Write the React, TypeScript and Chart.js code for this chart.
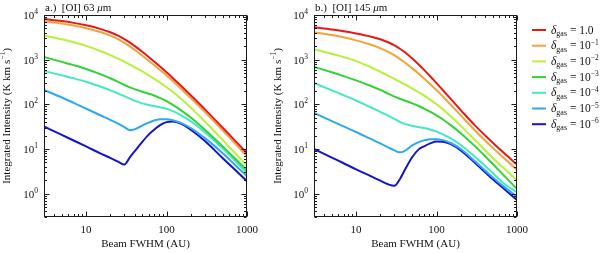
import React, { useEffect, useRef } from "react";
import { Chart, registerables } from "chart.js";
Chart.register(...registerables);

// ---------- data ----------
const beamFwhm = [3, 5, 7, 10, 15, 20, 25, 30, 35, 40, 50, 60, 70, 85, 100, 120, 150, 200, 300, 500, 700, 1000];

const deltaExponents = ["1.0", "−1", "−2", "−3", "−4", "−5", "−6"];
const lineColors = ["#e41a1a", "#f4a23a", "#b8f03c", "#34d234", "#44e8c4", "#2ea8ee", "#1414c8"];

// [OI] 63 micron
const oi63_d0 = [8100, 7310, 6660, 5880, 4900, 4120, 3450, 2870, 2410, 2030, 1500, 1150, 910, 675, 520, 385, 263, 159, 77, 29.8, 15.8, 8.05];
const oi63_d1 = [7200, 6435, 5790, 5050, 4160, 3460, 2880, 2380, 1985, 1665, 1226, 947, 756, 566, 442, 331, 226, 138, 67, 25.9, 13.7, 6.9];
const oi63_d2 = [3500, 2854, 2453, 2038, 1566, 1262, 1051, 895, 777, 682, 544, 447, 376, 298, 242, 188, 135, 84.3, 41.1, 15.8, 8.35, 4.21];
const oi63_d3 = [1150, 891, 753, 619, 475, 383, 317, 271, 240, 219, 191, 173, 158, 136, 118, 97.2, 74.4, 50.5, 26.9, 11.3, 6.3, 3.3];
const oi63_d4 = [560, 445, 382, 320, 251, 206, 175, 152, 134, 121, 105, 96.3, 91.3, 85.3, 79.3, 70.4, 57.6, 42, 23.8, 10.2, 5.6, 2.9];
const oi63_d5 = [209, 142, 108, 80, 57, 45, 37, 31, 26.3, 27.5, 33.5, 39, 43.5, 46.5, 46.5, 44, 38.5, 29.5, 17.5, 8, 4.5, 2.45];
const oi63_d6 = [32, 20.6, 15.5, 11.4, 8.0, 6.3, 5.2, 4.5, 6.5, 8.8, 14.5, 21, 27, 35, 40, 41.5, 37, 27, 15, 6.2, 3.5, 1.9];

// [OI] 145 micron
const oi145_d0 = [5300, 4738, 4327, 3860, 3308, 2865, 2451, 2080, 1756, 1485, 1063, 780, 591, 409, 298, 207, 132, 74.4, 33.7, 13.8, 7.9, 4.48];
const oi145_d1 = [4080, 3554, 3159, 2702, 2183, 1805, 1495, 1248, 1036, 876, 638, 484, 378, 274, 209, 149, 97.7, 56.5, 26, 10.6, 6.1, 3.4];
const oi145_d2 = [1700, 1351, 1141, 928, 685, 536, 439, 370, 320, 281, 225, 186, 157, 124, 100, 77.1, 54, 32.9, 15.9, 6.3, 3.57, 1.98];
const oi145_d3 = [690, 521, 429, 344, 261, 210, 174, 149, 133, 122, 105, 91.8, 80.5, 66.9, 56.4, 45.8, 34.2, 22.6, 11.6, 4.6, 2.47, 1.28];
const oi145_d4 = [300, 205, 160, 122, 87, 68, 56, 47, 40.5, 36.5, 33, 31, 29.5, 27, 24.5, 21.3, 17.3, 12.3, 6.7, 2.9, 1.65, 1.08];
const oi145_d5 = [64, 42, 32, 24, 17, 13.3, 10.9, 9.3, 8.4, 9, 12, 14.2, 15.6, 16.6, 16.6, 15.8, 13.6, 10, 5.3, 2.3, 1.4, 0.85];
const oi145_d6 = [10, 6.4, 4.8, 3.5, 2.5, 1.95, 1.62, 1.5, 2.1, 3.3, 6.6, 9.8, 11.5, 13.5, 14.8, 14.6, 12.8, 9.3, 4.9, 2.1, 1.25, 0.72];

const oi63Series = [oi63_d0, oi63_d1, oi63_d2, oi63_d3, oi63_d4, oi63_d5, oi63_d6];
const oi145Series = [oi145_d0, oi145_d1, oi145_d2, oi145_d3, oi145_d4, oi145_d5, oi145_d6];

const xTickLabels = [10, 100, 1000];
const yTickExponents = [0, 1, 2, 3, 4];
const xRange = [3, 1000];
const yRange = [0.3, 10000];

// ---------- text helpers ----------
const FONT = '"Liberation Serif", "DejaVu Serif", serif';
type Run = { t: string; size: number; italic?: boolean; dy?: number };
const fnt = (r: Run) => `${r.italic ? "italic " : ""}${r.size}px ${FONT}`;
function runsWidth(ctx: CanvasRenderingContext2D, runs: Run[]) {
  let w = 0;
  for (const r of runs) {
    ctx.font = fnt(r);
    w += ctx.measureText(r.t).width;
  }
  return w;
}
function drawRuns(ctx: CanvasRenderingContext2D, runs: Run[], x: number, y: number, align: "left" | "center" | "right") {
  const w = runsWidth(ctx, runs);
  let cx = align === "left" ? x : align === "center" ? x - w / 2 : x - w;
  ctx.textAlign = "left";
  ctx.textBaseline = "alphabetic";
  for (const r of runs) {
    ctx.font = fnt(r);
    ctx.fillText(r.t, cx, y + (r.dy || 0));
    cx += ctx.measureText(r.t).width;
  }
}

type PanelCfg = {
  title: Run[];
  yTitleX: number;
  legend: boolean;
};

function makePlugin(cfg: PanelCfg) {
  return {
    id: "frameAndText",
    afterDatasetsDraw(chart: any) {
      const ctx: CanvasRenderingContext2D = chart.ctx;
      const a = chart.chartArea;
      const xs = chart.scales.x;
      const ys = chart.scales.y;
      ctx.save();
      ctx.strokeStyle = "#1a1a1a";
      ctx.fillStyle = "#111";
      ctx.lineWidth = 1;
      const L = Math.round(a.left) + 0.5;
      const R = Math.round(a.right) - 0.5;
      const T = Math.round(a.top) + 0.5;
      const B = Math.round(a.bottom) - 0.5;
      ctx.strokeRect(L, T, R - L, B - T);

      ctx.beginPath();
      for (let d = 0; d <= 3; d++) {
        for (let m = 1; m <= 9; m++) {
          const v = m * Math.pow(10, d);
          if (v < xRange[0] || v > xRange[1]) continue;
          const px = Math.round(xs.getPixelForValue(v)) + 0.5;
          const len = m === 1 ? 5 : 2.5;
          ctx.moveTo(px, B);
          ctx.lineTo(px, B - len);
          ctx.moveTo(px, T);
          ctx.lineTo(px, T + len);
        }
      }
      for (let d = -1; d <= 4; d++) {
        for (let m = 1; m <= 9; m++) {
          const v = m * Math.pow(10, d);
          if (v < yRange[0] || v > yRange[1]) continue;
          const py = Math.round(ys.getPixelForValue(v)) + 0.5;
          const len = m === 1 ? 5 : 2.5;
          ctx.moveTo(L, py);
          ctx.lineTo(L + len, py);
          ctx.moveTo(R, py);
          ctx.lineTo(R - len, py);
        }
      }
      ctx.stroke();

      for (const v of xTickLabels) {
        const px = xs.getPixelForValue(v);
        drawRuns(ctx, [{ t: String(v), size: 11 }], px, a.bottom + 16, "center");
      }
      for (const e of yTickExponents) {
        const py = ys.getPixelForValue(Math.pow(10, e));
        drawRuns(ctx, [{ t: "10", size: 11 }, { t: String(e), size: 7.5, dy: -5 }], a.left - 6, py + 4, "right");
      }
      drawRuns(ctx, [{ t: "Beam FWHM (AU)", size: 11 }], (a.left + a.right) / 2, a.bottom + 30, "center");
      ctx.save();
      ctx.translate(cfg.yTitleX, (a.top + a.bottom) / 2);
      ctx.rotate(-Math.PI / 2);
      drawRuns(
        ctx,
        [
          { t: "Integrated Intensity (K km s", size: 11 },
          { t: "−1", size: 7.5, dy: -5 },
          { t: ")", size: 11 },
        ],
        0,
        4,
        "center"
      );
      ctx.restore();
      drawRuns(ctx, cfg.title, a.left + 1, a.top - 4, "left");

      if (cfg.legend) {
        const lx = a.right + 15;
        for (let i = 0; i < deltaExponents.length; i++) {
          const y = 30 + i * 15.7;
          ctx.strokeStyle = lineColors[i];
          ctx.lineWidth = 2;
          ctx.beginPath();
          ctx.moveTo(lx, y);
          ctx.lineTo(lx + 14, y);
          ctx.stroke();
          ctx.fillStyle = "#111";
          const e = deltaExponents[i];
          const runs: Run[] = [
            { t: "δ", size: 11.5, italic: true },
            { t: "gas", size: 8, dy: 2.5 },
            { t: " = ", size: 11.5 },
          ];
          if (e === "1.0") runs.push({ t: "1.0", size: 11.5 });
          else runs.push({ t: "10", size: 11.5 }, { t: e, size: 7.5, dy: -4.5 });
          drawRuns(ctx, runs, lx + 19, y + 3.5, "left");
        }
      }
      ctx.restore();
    },
  };
}

function buildChart(canvas: HTMLCanvasElement, series: number[][], padding: any, cfg: PanelCfg) {
  return new Chart(canvas, {
    type: "line",
    data: {
      labels: beamFwhm,
      datasets: series.map((vals, i) => ({
        label: "δgas = " + deltaExponents[i],
        data: beamFwhm.map((x, j) => ({ x, y: vals[j] })),
        borderColor: lineColors[i],
        backgroundColor: lineColors[i],
        borderWidth: 2,
        pointRadius: 0,
        cubicInterpolationMode: "monotone",
        fill: false,
      })),
    },
    options: {
      animation: false,
      responsive: false,
      devicePixelRatio: 1,
      layout: { padding },
      plugins: { legend: { display: false }, tooltip: { enabled: false } },
      scales: {
        x: { type: "logarithmic", min: xRange[0], max: xRange[1], display: false },
        y: { type: "logarithmic", min: yRange[0], max: yRange[1], display: false },
      },
    },
    plugins: [makePlugin(cfg)],
  } as any);
}

export default function App() {
  const leftRef = useRef<HTMLCanvasElement>(null);
  const rightRef = useRef<HTMLCanvasElement>(null);
  useEffect(() => {
    const c1 = buildChart(leftRef.current!, oi63Series, { left: 44, right: 15, top: 15, bottom: 36 }, {
      title: [
        { t: "a.)  [OI] 63 ", size: 11 },
        { t: "μ", size: 11, italic: true },
        { t: "m", size: 11 },
      ],
      yTitleX: 6,
      legend: false,
    });
    const c2 = buildChart(rightRef.current!, oi145Series, { left: 52, right: 83, top: 15, bottom: 36 }, {
      title: [
        { t: "b.)  [OI] 145 ", size: 11 },
        { t: "μ", size: 11, italic: true },
        { t: "m", size: 11 },
      ],
      yTitleX: 15,
      legend: true,
    });
    return () => {
      c1.destroy();
      c2.destroy();
    };
  }, []);
  return (
    <div style={{ position: "absolute", left: 0, top: 0, width: 600, height: 253, background: "#fff" }}>
      <canvas ref={leftRef} width={262} height={253} style={{ position: "absolute", left: 0, top: 0, width: 262, height: 253 }} />
      <canvas ref={rightRef} width={338} height={253} style={{ position: "absolute", left: 262, top: 0, width: 338, height: 253 }} />
    </div>
  );
}
